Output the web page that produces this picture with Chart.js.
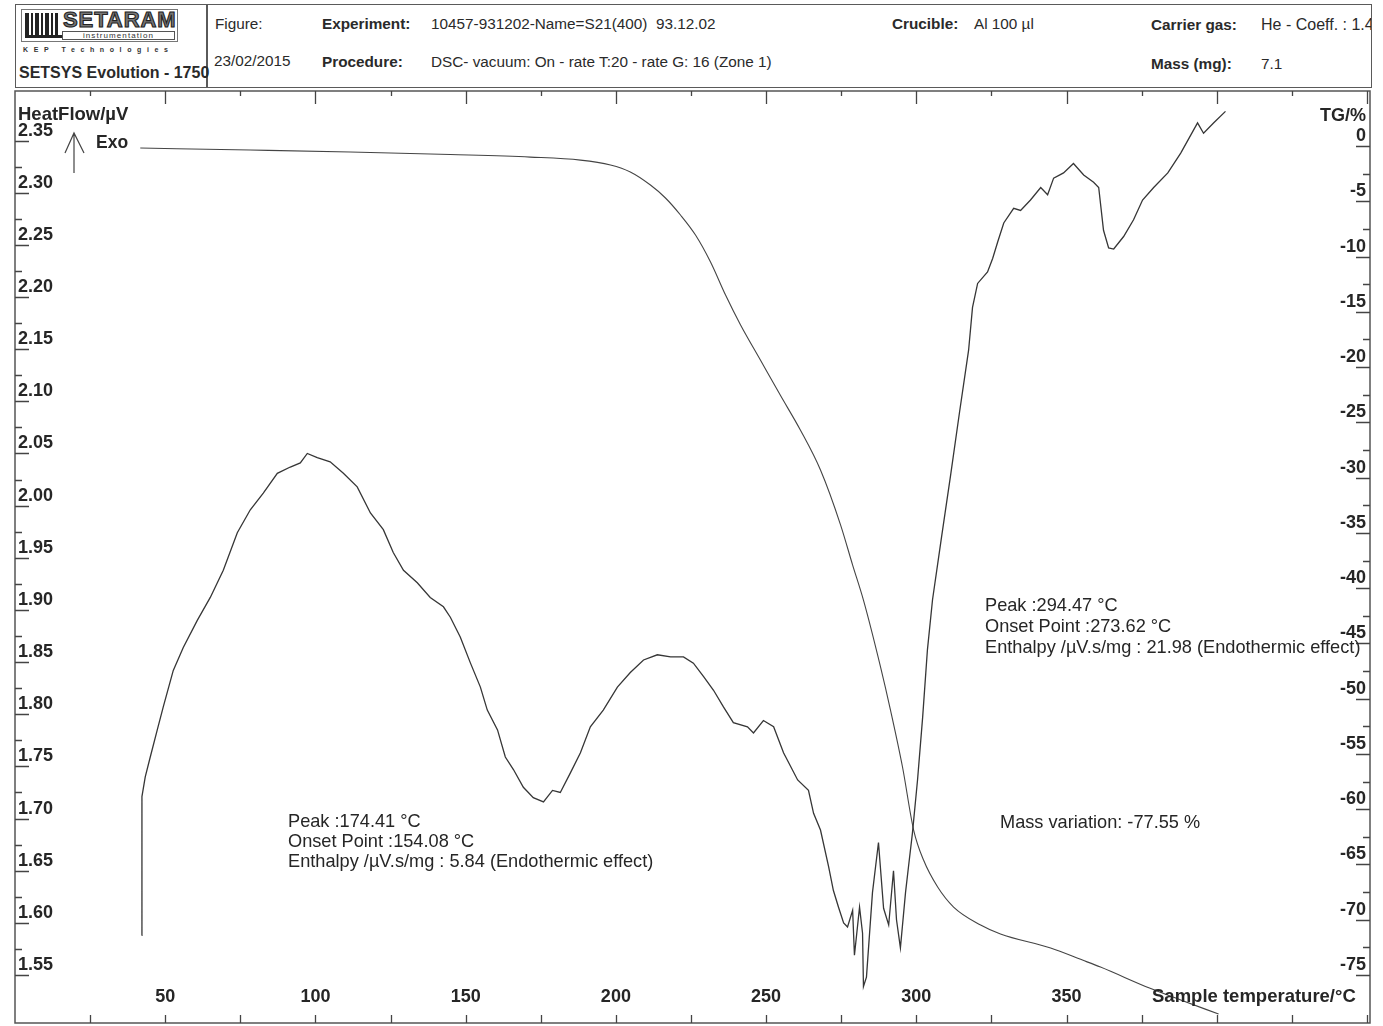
<!DOCTYPE html>
<html><head><meta charset="utf-8">
<script src="https://cdn.jsdelivr.net/npm/chart.js@4.4.1/dist/chart.umd.min.js"></script>
<style>
html,body{margin:0;padding:0;background:#fff;width:1383px;height:1026px;overflow:hidden;font-family:'Liberation Sans',Arial,Helvetica,sans-serif;color:#2a2a2a;}
#c{position:absolute;left:0;top:0;}
#hdr{position:absolute;left:15px;top:4px;width:1357px;height:84px;border:1.5px solid #5a5a5a;box-sizing:border-box;overflow:hidden;background:#fff;}
#hdr span{position:absolute;white-space:pre;font-size:15.3px;line-height:18px;}
#hdr .b{font-weight:bold;}
#div1{position:absolute;left:190px;top:0;width:1.5px;height:100%;background:#5a5a5a;}
#logo{position:absolute;left:5px;top:4px;width:157px;height:33px;border:1px solid #777;box-sizing:border-box;}
.bar{position:absolute;background:#222;}
#setaram{position:absolute;left:41px;top:-2px;font-size:22px;font-weight:bold;letter-spacing:0.9px;color:#777;-webkit-text-stroke:1.1px #222;line-height:23px;}
#instr{position:absolute;left:40px;top:21px;width:113px;height:9px;border:1px solid #555;box-sizing:border-box;font-size:8px;line-height:8px;text-align:center;letter-spacing:1.1px;color:#333;}
#hdr #kep{position:absolute;left:7px;top:41px;font-size:7px;letter-spacing:5.6px;color:#333;line-height:8px;font-weight:bold;}
</style></head>
<body>
<canvas id="c" width="1383" height="1026"></canvas>
<div id="hdr">
  <div id="logo">
    <div class="bar" style="left:3px;top:3px;width:4px;height:22px"></div>
    <div class="bar" style="left:9px;top:3px;width:2px;height:22px"></div>
    <div class="bar" style="left:13px;top:3px;width:4px;height:22px"></div>
    <div class="bar" style="left:19px;top:3px;width:2px;height:22px"></div>
    <div class="bar" style="left:23px;top:3px;width:4px;height:22px"></div>
    <div class="bar" style="left:29px;top:3px;width:2px;height:22px"></div>
    <div class="bar" style="left:33px;top:3px;width:3px;height:22px"></div>
    <div class="bar" style="left:3px;top:25px;width:37px;height:3px"></div>
    <div id="setaram">SETARAM</div>
    <div id="instr">instrumentation</div>
  </div>
  <span id="kep">KEP Technologies</span>
  <div id="div1"></div>
  <span style="left:199px;top:10px">Figure:</span>
  <span class="b" style="left:306px;top:10px">Experiment:</span>
  <span style="left:415px;top:10px">10457-931202-Name=S21(400)  93.12.02</span>
  <span class="b" style="left:876px;top:10px">Crucible:</span>
  <span style="left:958px;top:10px">Al 100 µl</span>
  <span class="b" style="left:1135px;top:11px">Carrier gas:</span>
  <span style="left:1245px;top:11px;font-size:16px">He - Coeff. : 1.4</span>
  <span style="left:198px;top:47px">23/02/2015</span>
  <span class="b" style="left:306px;top:48px">Procedure:</span>
  <span style="left:415px;top:48px">DSC- vacuum: On - rate T:20 - rate G: 16 (Zone 1)</span>
  <span class="b" style="left:1135px;top:50px">Mass (mg):</span>
  <span style="left:1245px;top:50px">7.1</span>
  <span class="b" style="left:3px;top:59px;font-size:16px">SETSYS Evolution - 1750</span>
</div>
<script>
// ---- data ----
const dscTemp = [42.19,42.25,43.35,45.02,47.35,49.35,52.68,56.01,60.67,65.0,
 69.33,73.99,78.32,82.64,87.31,91.63,94.96,97.29,100.6,104.9,
 109.3,113.9,118.3,122.6,125.9,129.3,133.9,138.2,142.6,144.9,
 148.2,151.6,154.9,157.2,160.6,163.2,165.9,169.2,172.5,175.9,
 178.9,181.5,184.9,188.2,191.5,195.8,200.5,204.8,209.2,213.8,
 218.2,222.5,225.8,229.2,232.5,235.8,239.1,243.8,245.8,249.1,
 252.5,255.8,260.5,264.1,265.8,268.1,270.8,272.4,274.1,275.8,
 277.1,278.8,279.4,281.1,282.1,282.4,283.4,285.4,287.4,289.1,
 290.8,292.4,293.4,294.7,296.4,297.4,298.7,300.4,302.1,303.7,
 305.4,308.4,311.4,314.4,317.4,318.7,320.4,323.7,325.4,327.1,
 329.1,332.4,334.7,338.0,341.4,343.7,345.7,349.0,352.3,355.7,
 359.0,360.7,362.3,364.0,365.7,369.0,372.3,375.3,379.0,383.7,
 388.0,393.6,395.6,399.0,402.9];
const dscHeatFlow = [1.588,1.721,1.740,1.759,1.785,1.807,1.842,1.864,1.890,1.912,
 1.938,1.974,1.996,2.012,2.031,2.037,2.041,2.050,2.046,2.042,
 2.031,2.018,1.993,1.977,1.955,1.938,1.926,1.912,1.903,1.893,
 1.874,1.849,1.826,1.804,1.785,1.759,1.747,1.730,1.720,1.716,
 1.727,1.725,1.744,1.763,1.788,1.804,1.826,1.840,1.852,1.857,
 1.855,1.855,1.849,1.836,1.823,1.807,1.792,1.788,1.782,1.794,
 1.788,1.763,1.737,1.727,1.705,1.689,1.654,1.631,1.615,1.600,
 1.596,1.612,1.569,1.615,1.590,1.539,1.548,1.629,1.677,1.614,
 1.598,1.650,1.603,1.576,1.629,1.654,1.686,1.737,1.797,1.862,
 1.910,1.970,2.029,2.090,2.149,2.190,2.213,2.224,2.237,2.253,
 2.271,2.285,2.283,2.293,2.305,2.298,2.314,2.319,2.328,2.317,
 2.310,2.305,2.264,2.247,2.246,2.258,2.274,2.293,2.305,2.319,
 2.338,2.367,2.357,2.367,2.378];
const tgTemp = [41.7,78.3,111.6,144.9,171.5,188.2,198.2,204.8,211.5,216.5,
 221.5,226.5,231.5,236.5,241.5,248.1,254.7,261.4,268.1,274.8,
 278.8,282.4,288.1,291.4,295.4,299.1,302.4,307.1,312.4,321.4,
 328.0,344.7,355.3,361.3,377.6,388.0,400.6];
const tgMass = [-0.18,-0.36,-0.54,-0.77,-1.0,-1.27,-1.72,-2.35,-3.53,-4.70,
 -6.24,-8.05,-10.49,-13.48,-16.19,-19.36,-22.53,-25.69,-29.31,-34.29,
 -37.91,-41.08,-47.14,-51.03,-56.18,-61.88,-64.60,-67.04,-68.85,-70.48,
 -71.29,-72.56,-73.65,-74.28,-76.18,-77.26,-78.53];
const tempTickLabels = ['50','100','150','200','250','300','350'];
const heatFlowTickLabels = ['2.35','2.30','2.25','2.20','2.15','2.10','2.05','2.00','1.95','1.90','1.85','1.80','1.75','1.70','1.65','1.60','1.55'];
const tgTickLabels = ['0','-5','-10','-15','-20','-25','-30','-35','-40','-45','-50','-55','-60','-65','-70','-75'];
const tempTickValues = tempTickLabels.map(Number);
const heatFlowTickValues = heatFlowTickLabels.map(Number);
const tgTickValues = tgTickLabels.map(Number);
const peak1Lines = ['Peak :174.41 °C','Onset Point :154.08 °C','Enthalpy /µV.s/mg : 5.84 (Endothermic effect)'];
const peak2Lines = ['Peak :294.47 °C','Onset Point :273.62 °C','Enthalpy /µV.s/mg : 21.98 (Endothermic effect)'];
const massText = 'Mass variation: -77.55 %';

// ---- chart ----
const FONT = "'Liberation Sans', Arial, Helvetica, sans-serif";
Chart.defaults.font.family = FONT;
const TXT = '#262626';
const LINE = '#363636';

const decor = {
  id: 'decor',
  afterDraw(chart) {
    const {ctx, chartArea: ca, scales} = chart;
    const sx = scales.x, sh = scales.yHF, st = scales.yTG;
    ctx.save();
    // frame
    ctx.strokeStyle = '#555'; ctx.lineWidth = 1.5;
    ctx.strokeRect(ca.left, ca.top, ca.right - ca.left, ca.bottom - ca.top);
    // tick marks
    ctx.strokeStyle = '#444'; ctx.lineWidth = 1.3;
    ctx.beginPath();
    heatFlowTickValues.forEach((v, i) => {
      const p = Math.round(sh.getPixelForValue(v)) + 0.5;
      ctx.moveTo(ca.left, p); ctx.lineTo(ca.left + 14, p);
      if (i > 0) {
        const m = Math.round(sh.getPixelForValue((v + heatFlowTickValues[i - 1]) / 2)) + 0.5;
        ctx.moveTo(ca.left, m); ctx.lineTo(ca.left + 7, m);
      }
    });
    tgTickValues.forEach((v, i) => {
      const p = Math.round(st.getPixelForValue(v)) + 0.5;
      ctx.moveTo(ca.right, p); ctx.lineTo(ca.right - 14, p);
      if (i > 0) {
        const m = Math.round(st.getPixelForValue((v + tgTickValues[i - 1]) / 2)) + 0.5;
        ctx.moveTo(ca.right, m); ctx.lineTo(ca.right - 7, m);
      }
    });
    const step = (tempTickValues[1] - tempTickValues[0]) / 2;
    for (let t = step; t < sx.max; t += step) {
      const p = Math.round(sx.getPixelForValue(t)) + 0.5;
      const major = Math.abs(t % (2 * step)) < 1e-6;
      ctx.moveTo(p, ca.top); ctx.lineTo(p, ca.top + (major ? 13 : 5));
      ctx.moveTo(p, ca.bottom); ctx.lineTo(p, ca.bottom - 8);
    }
    ctx.stroke();
    // Exo arrow
    ctx.beginPath();
    ctx.lineWidth = 1.2;
    ctx.moveTo(74, 173); ctx.lineTo(74, 133);
    ctx.moveTo(65, 153); ctx.lineTo(74, 133); ctx.lineTo(84, 153);
    ctx.stroke();
    // axis titles
    ctx.fillStyle = TXT;
    ctx.textBaseline = 'middle';
    ctx.font = 'bold 18.5px ' + FONT;
    ctx.textAlign = 'left';
    ctx.fillText('HeatFlow/µV', ca.left + 3, 115);
    ctx.fillText('Sample temperature/°C', 1152, 997);
    ctx.font = 'bold 17.5px ' + FONT;
    ctx.fillText('Exo', 96, 143);
    ctx.font = 'bold 18px ' + FONT;
    ctx.textAlign = 'right';
    ctx.fillText('TG/%', ca.right - 4, 116);
    // annotations
    ctx.textAlign = 'left';
    ctx.font = '18.2px ' + FONT;
    peak1Lines.forEach((s, i) => ctx.fillText(s, 288, 822 + i * 20));
    peak2Lines.forEach((s, i) => ctx.fillText(s, 985, 606 + i * 21));
    ctx.fillText(massText, 1000, 823);
    ctx.restore();
  }
};

const yCommon = (values, pad) => ({
  type: 'linear',
  grid: {display: false, drawTicks: false},
  border: {display: false},
  ticks: {mirror: true, padding: pad, labelOffset: -10, color: TXT, autoSkip: false,
          font: {size: 18, weight: 'bold'}},
  afterBuildTicks: s => { s.ticks = values.map(v => ({value: v})); },
  afterFit: s => { s.width = 0; s.paddingTop = 0; s.paddingBottom = 0; }
});

const yHF = yCommon(heatFlowTickValues, 3);
yHF.position = 'left'; yHF.min = 1.504; yHF.max = 2.3975;
yHF.ticks.callback = (v, i) => heatFlowTickLabels[i];
const yTG = yCommon(tgTickValues, -4);
yTG.position = 'right'; yTG.min = -79.34; yTG.max = 4.98;
yTG.ticks.callback = (v, i) => tgTickLabels[i];

new Chart(document.getElementById('c'), {
  type: 'scatter',
  data: {
    datasets: [
      {label: 'HeatFlow/µV', data: dscTemp.map((t, i) => ({x: t, y: dscHeatFlow[i]})),
       yAxisID: 'yHF', showLine: true, borderColor: LINE, borderWidth: 1.3,
       pointRadius: 0, tension: 0},
      {label: 'TG/%', data: tgTemp.map((t, i) => ({x: t, y: tgMass[i]})),
       yAxisID: 'yTG', showLine: true, borderColor: '#444', borderWidth: 1.1,
       pointRadius: 0, cubicInterpolationMode: 'monotone'}
    ]
  },
  options: {
    responsive: false, animation: false, devicePixelRatio: 1,
    layout: {padding: {left: 15, right: 13, top: 91, bottom: 3}},
    plugins: {legend: {display: false}, tooltip: {enabled: false}, title: {display: false}},
    scales: {
      x: {
        type: 'linear', position: 'bottom', min: 0, max: 451,
        grid: {display: false, drawTicks: false}, border: {display: false},
        ticks: {mirror: true, autoSkip: false, maxRotation: 0, minRotation: 0, padding: 15, color: TXT,
                font: {size: 18, weight: 'bold'}, callback: (v, i) => tempTickLabels[i]},
        afterBuildTicks: s => { s.ticks = tempTickValues.map(v => ({value: v})); },
        afterFit: s => { s.height = 0; s.paddingLeft = 0; s.paddingRight = 0; }
      },
      yHF: yHF,
      yTG: yTG
    }
  },
  plugins: [decor]
});
</script>
</body></html>
